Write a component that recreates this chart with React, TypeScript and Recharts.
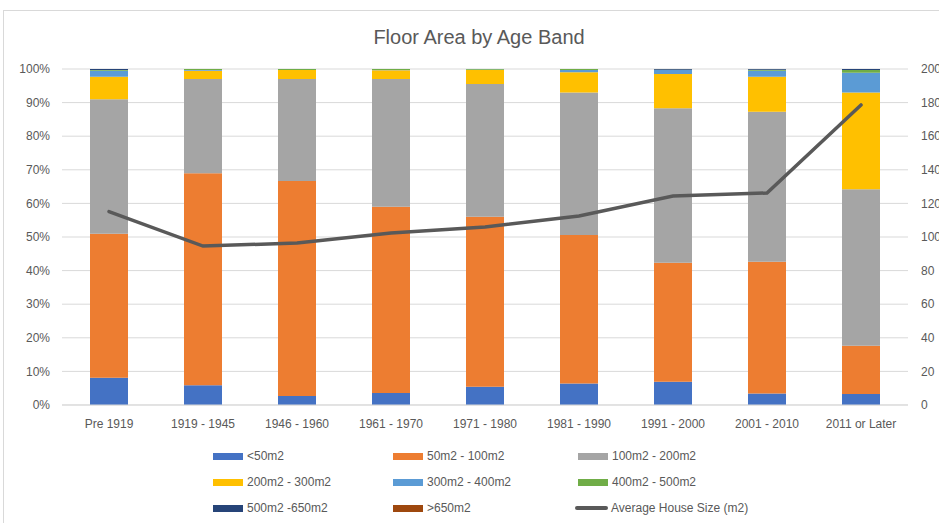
import React from "react";
import { ComposedChart, Bar, Line, XAxis, YAxis, CartesianGrid } from "recharts";

const categories = ["Pre 1919", "1919 - 1945", "1946 - 1960", "1961 - 1970", "1971 - 1980", "1981 - 1990", "1991 - 2000", "2001 - 2010", "2011 or Later"];

const under50 = [8.1, 5.9, 2.7, 3.6, 5.4, 6.4, 6.9, 3.4, 3.3];
const from50to100 = [42.9, 63.1, 64.0, 55.4, 50.6, 44.2, 35.4, 39.2, 14.3];
const from100to200 = [40.0, 28.0, 30.3, 38.0, 39.5, 42.4, 46.0, 44.7, 46.6];
const from200to300 = [6.7, 2.5, 2.7, 2.6, 4.2, 6.0, 10.2, 10.4, 28.8];
const from300to400 = [1.8, 0.2, 0.0, 0.1, 0.1, 0.7, 1.2, 1.8, 5.9];
const from400to500 = [0.2, 0.3, 0.3, 0.3, 0.2, 0.3, 0.1, 0.3, 0.8];
const from500to650 = [0.3, 0.0, 0.0, 0.0, 0.0, 0.0, 0.2, 0.2, 0.3];
const over650 = [0, 0, 0, 0, 0, 0, 0, 0, 0];
const avgHouseSize = [115.1, 94.6, 96.4, 102.4, 106.0, 112.5, 124.4, 126.2, 178.6];

const leftTicks = [0, 10, 20, 30, 40, 50, 60, 70, 80, 90, 100];
const rightTicks = [0, 20, 40, 60, 80, 100, 120, 140, 160, 180, 200];

const seriesDefs = [
  { key: "s0", name: "<50m2", values: under50, color: "#4472C4" },
  { key: "s1", name: "50m2 - 100m2", values: from50to100, color: "#ED7D31" },
  { key: "s2", name: "100m2 - 200m2", values: from100to200, color: "#A5A5A5" },
  { key: "s3", name: "200m2 - 300m2", values: from200to300, color: "#FFC000" },
  { key: "s4", name: "300m2 - 400m2", values: from300to400, color: "#5B9BD5" },
  { key: "s5", name: "400m2 - 500m2", values: from400to500, color: "#70AD47" },
  { key: "s6", name: "500m2 -650m2", values: from500to650, color: "#264478" },
  { key: "s7", name: ">650m2", values: over650, color: "#9E480E" },
];

const lineName = "Average House Size (m2)";
const lineColor = "#595959";

const data = categories.map((band, i) => {
  const row: Record<string, any> = { band, avg: avgHouseSize[i] };
  seriesDefs.forEach((s) => {
    row[s.key] = s.values[i];
  });
  return row;
});

const FONT = "'Liberation Sans', Arial, sans-serif";

const legendItems = [
  ...seriesDefs.map((s) => ({ name: s.name, color: s.color, line: false })),
  { name: lineName, color: lineColor, line: true },
];
const legendCols = [213, 393, 578];
const legendRows = [456, 482, 508];

export default function App() {
  return (
    <div
      style={{
        position: "absolute",
        left: 0,
        top: 0,
        width: 939,
        height: 523,
        overflow: "hidden",
        background: "#fff",
        fontFamily: FONT,
      }}
    >
      <div
        style={{
          position: "absolute",
          left: 3,
          top: 10,
          width: 1000,
          height: 600,
          border: "1px solid #d9d9d9",
          boxSizing: "border-box",
        }}
      />
      <div
        style={{
          position: "absolute",
          left: 0,
          width: 958,
          top: 24,
          textAlign: "center",
          fontSize: 20,
          color: "#595959",
          lineHeight: "26px",
        }}
      >
        Floor Area by Age Band
      </div>
      <div style={{ position: "absolute", left: 0, top: 0 }}>
        <ComposedChart
          width={960}
          height={523}
          data={data}
          margin={{ top: 69, right: 0, bottom: 88, left: 8 }}
          style={{ fontFamily: FONT }}
        >
          <CartesianGrid vertical={false} stroke="#d9d9d9" yAxisId="left" />
          <XAxis
            dataKey="band"
            tickLine={false}
            axisLine={{ stroke: "#d9d9d9" }}
            tick={{ fill: "#595959", fontSize: 12 }}
            tickSize={0}
            tickMargin={14}
            height={30}
            interval={0}
          />
          <YAxis
            yAxisId="left"
            domain={[0, 100]}
            ticks={leftTicks}
            tickFormatter={(v) => `${v}%`}
            axisLine={false}
            tickLine={false}
            tickSize={0}
            tickMargin={12}
            width={54}
            tick={{ fill: "#595959", fontSize: 12 }}
            allowDataOverflow
          />
          <YAxis
            yAxisId="right"
            orientation="right"
            domain={[0, 200]}
            ticks={rightTicks}
            axisLine={false}
            tickLine={false}
            tickSize={0}
            tickMargin={13}
            width={52}
            tick={{ fill: "#595959", fontSize: 12, textAnchor: "start" }}
          />
          {seriesDefs.map((s) => (
            <Bar
              key={s.key}
              dataKey={s.key}
              name={s.name}
              stackId="a"
              yAxisId="left"
              fill={s.color}
              barSize={38}
              isAnimationActive={false}
            />
          ))}
          <Line
            dataKey="avg"
            name={lineName}
            yAxisId="right"
            stroke={lineColor}
            strokeWidth={3.5}
            strokeLinecap="round"
            dot={false}
            activeDot={false}
            type="linear"
            isAnimationActive={false}
          />
        </ComposedChart>
      </div>
      {legendItems.map((item, idx) => {
        const col = idx % 3;
        const row = Math.floor(idx / 3);
        const x = legendCols[col];
        const y = legendRows[row];
        return (
          <div
            key={item.name}
            style={{
              position: "absolute",
              left: x,
              top: y - 8,
              height: 16,
              display: "flex",
              alignItems: "center",
              fontSize: 12,
              color: "#595959",
              whiteSpace: "nowrap",
            }}
          >
            {item.line ? (
              <div
                style={{
                  width: 33,
                  height: 4,
                  borderRadius: 2,
                  background: item.color,
                  marginRight: 3,
                  marginLeft: -3,
                }}
              />
            ) : (
              <div
                style={{
                  width: 30,
                  height: 7,
                  background: item.color,
                  marginRight: 4,
                }}
              />
            )}
            <span>{item.name}</span>
          </div>
        );
      })}
    </div>
  );
}
